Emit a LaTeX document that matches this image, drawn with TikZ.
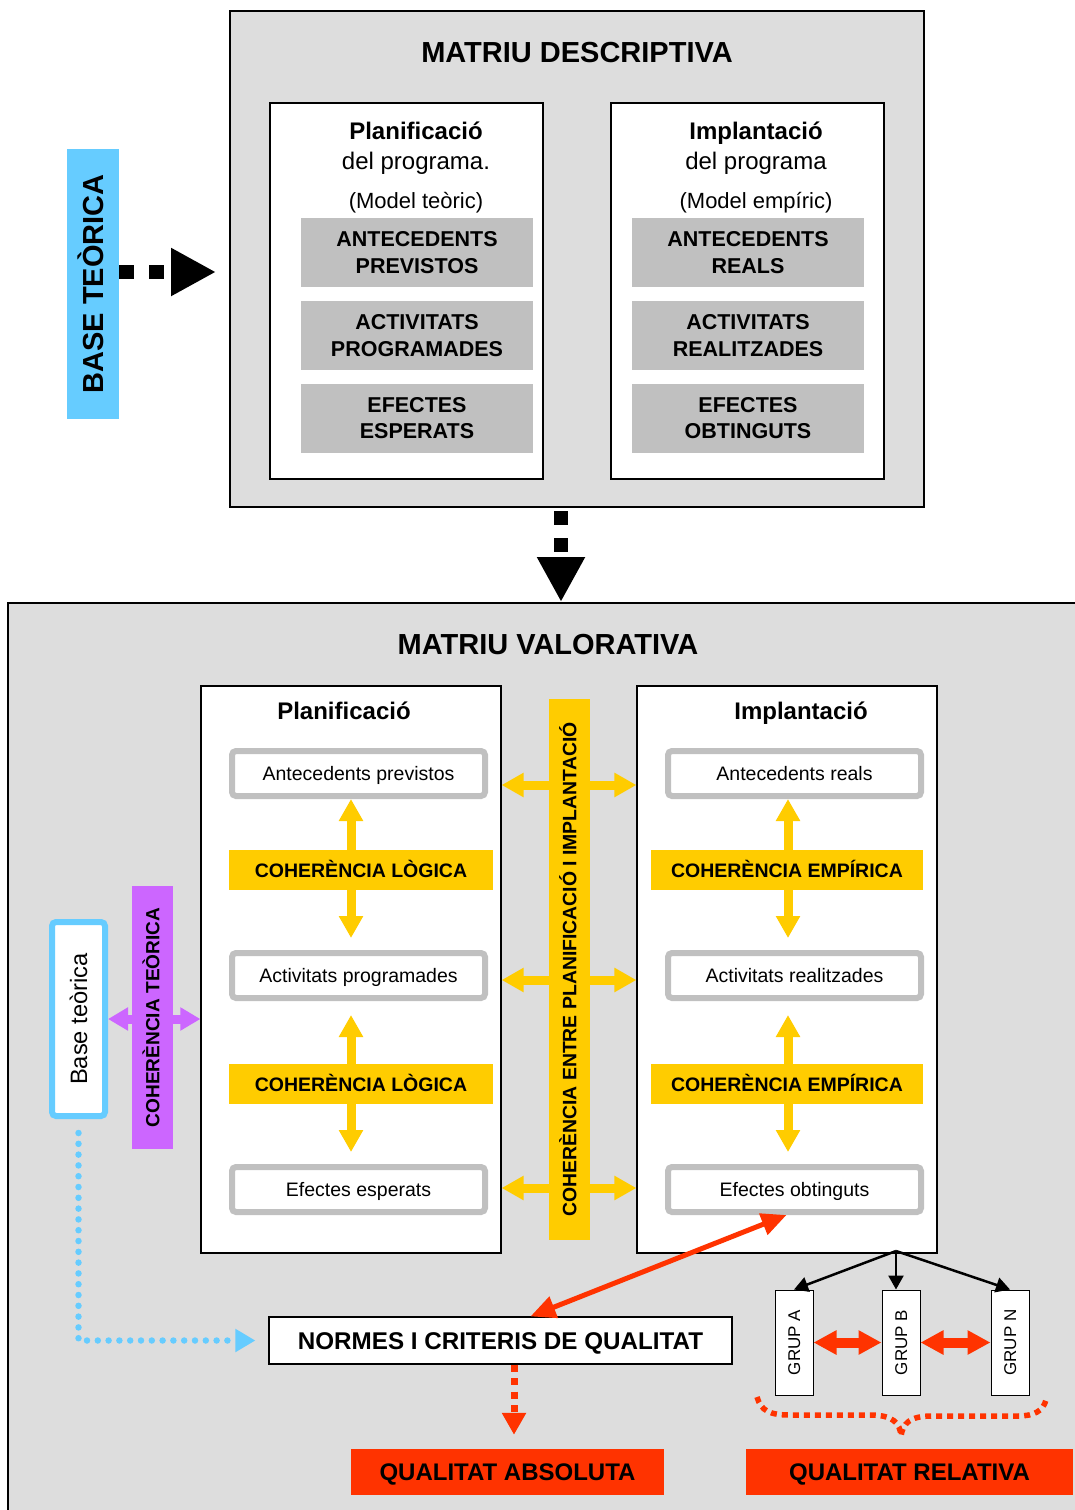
\documentclass[tikz,border=0pt]{standalone}
\usepackage{fontspec}
\setmainfont{Liberation Sans}
\usetikzlibrary{arrows.meta,positioning}
\definecolor{fonsgris}{HTML}{DDDDDD}
\definecolor{gris}{HTML}{C0C0C0}
\definecolor{blau}{HTML}{66CCFF}
\definecolor{groc}{HTML}{FFCC00}
\definecolor{lila}{HTML}{CC66FF}
\definecolor{vermell}{HTML}{FF3300}
\newcommand{\mida}[2]{\fontsize{#1}{#2}\selectfont}

\begin{document}
\begin{tikzpicture}[x=1pt,y=-1pt]
% mides en pixels de l'original
\tikzstyle{caixa} = [rectangle, draw=black, line width=1.2pt, fill=white, inner sep=0pt]
\tikzstyle{fons} = [rectangle, draw=black, line width=2pt, fill=fonsgris, inner sep=0pt]
\tikzstyle{t29} = [text height=20.8pt, text depth=0pt, font=\mida{29}{34}\bfseries]
\tikzstyle{t24} = [text height=17.2pt, text depth=0pt, font=\mida{24}{28}]
\tikzstyle{t22} = [text height=15.8pt, text depth=0pt, font=\mida{22}{26}]
\tikzstyle{t19} = [text height=14pt, text depth=0pt, font=\mida{19.5}{24}]
\tikzstyle{grisa} = [rectangle, fill=gris, inner sep=0pt, minimum width=232pt, minimum height=69pt, align=center,
  text depth=0pt, font=\mida{21.5}{26.5}\bfseries]
\tikzstyle{apartat} = [rectangle, t19, rounded corners=4pt, draw=gris, line width=6pt, fill=white, minimum width=253pt, minimum height=45pt]
\tikzstyle{coher} = [rectangle, t19, fill=groc, inner sep=0pt, minimum height=40pt, font=\mida{19.5}{24}\bfseries]
\tikzstyle{grup} = [rectangle, draw=black, line width=1pt, fill=white, inner sep=0pt, rotate=90, minimum width=105pt, minimum height=38pt, text height=12.2pt, text depth=0pt, font=\mida{17}{20}]
\tikzstyle{qualitat} = [rectangle, t24, fill=vermell, inner sep=0pt, minimum height=46pt, font=\mida{24}{28}\bfseries]
\tikzstyle{fnegra} = [black, line width=14pt, dash pattern=on 15pt off 15pt, -{Triangle[length=45pt,width=45pt]}]
\tikzstyle{fgroc} = [groc, line width=9pt, -{Triangle[length=22pt,width=23pt]}]
\tikzstyle{fgroc2} = [fgroc, {Triangle[length=22pt,width=23pt]}-{Triangle[length=22pt,width=23pt]}]
\tikzstyle{fvermella} = [vermell, line width=10pt, {Triangle[length=23pt,width=23pt]}-{Triangle[length=23pt,width=23pt]}]

\useasboundingbox (0,0) rectangle (1074,1510);
\fill[white] (0,0) rectangle (1074,1510);

% matriu descriptiva
\node (desc)[fons, minimum width=694pt, minimum height=496pt] at (577,259) {};
\node (tdesc)[t29] at (577,52) {MATRIU DESCRIPTIVA};
\node (planS)[caixa, minimum width=273pt, minimum height=376pt] at (406.5,291) {};
\node (implS)[caixa, minimum width=273pt, minimum height=376pt] at (747.5,291) {};
\node (tplanS)[t24, font=\mida{24}{28}\bfseries] at (416,131) {Planificació};
\node (dplanS)[t24] at (416,161) {del programa.};
\node (mplanS)[t22] at (416,201) {(Model teòric)};
\node (timplS)[t24, font=\mida{24}{28}\bfseries] at (756,131) {Implantació};
\node (dimplS)[t24] at (756,161) {del programa};
\node (mimplS)[t22] at (756,201) {(Model empíric)};
\node (antP)[grisa] at (417,252.5) {ANTECEDENTS\\PREVISTOS};
\node (actP)[grisa] at (417,335.5) {ACTIVITATS\\PROGRAMADES};
\node (efeP)[grisa] at (417,418) {EFECTES\\ESPERATS};
\node (antR)[grisa] at (748,252.5) {ANTECEDENTS\\REALS};
\node (actR)[grisa] at (748,335.5) {ACTIVITATS\\REALITZADES};
\node (efeR)[grisa] at (748,418) {EFECTES\\OBTINGUTS};

\node (bteo)[rectangle, t29, fill=blau, rotate=90, inner sep=0pt, minimum width=270pt, minimum height=52pt] at (93,284) {BASE TEÒRICA};
\draw [fnegra, shorten >=13pt] (bteo.south |- 0,272) -- (desc.west |- 0,272);

% matriu valorativa
\node (valor)[fons, minimum width=1074pt, minimum height=914pt] at (545,1060) {};
\draw [fnegra, dash pattern=on 14pt off 13pt, dash phase=-3pt] (desc.south -| 561,0) -- (valor.north -| 561,0);
\node (tvalor)[t29] at (548,644) {MATRIU VALORATIVA};

\node (planL)[caixa, minimum width=300pt, minimum height=567pt] at (351,969.5) {};
\node (implL)[caixa, minimum width=300pt, minimum height=567pt] at (787,969.5) {};
\node (tplanL)[t24, font=\mida{24}{28}\bfseries] at (344,711) {Planificació};
\node (timplL)[t24, font=\mida{24}{28}\bfseries] at (801,711) {Implantació};

\node (ap1)[apartat] at (358.5,773.5) {Antecedents previstos};
\node (ap2)[apartat] at (358.5,975.5) {Activitats programades};
\node (ap3)[apartat] at (358.5,1189.5) {Efectes esperats};
\node (ar1)[apartat] at (794.5,773.5) {Antecedents reals};
\node (ar2)[apartat] at (794.5,975.5) {Activitats realitzades};
\node (ar3)[apartat] at (794.5,1189.5) {Efectes obtinguts};

\coordinate (eixL) at (351,0);
\coordinate (eixR) at (788,0);
\node (cl1)[coher, minimum width=264pt] at (361,870) {COHERÈNCIA LÒGICA};
\node (cl2)[coher, minimum width=264pt] at (361,1084) {COHERÈNCIA LÒGICA};
\node (ce1)[coher, minimum width=272pt] at (787,870) {COHERÈNCIA EMPÍRICA};
\node (ce2)[coher, minimum width=272pt] at (787,1084) {COHERÈNCIA EMPÍRICA};

\draw [fgroc] (cl1.north -| eixL) -- (ap1.south -| eixL);
\draw [fgroc, shorten >=12pt] (cl1.south -| eixL) -- (ap2.north -| eixL);
\draw [fgroc, shorten >=14pt] (cl2.north -| eixL) -- (ap2.south -| eixL);
\draw [fgroc, shorten >=12pt] (cl2.south -| eixL) -- (ap3.north -| eixL);
\draw [fgroc] (ce1.north -| eixR) -- (ar1.south -| eixR);
\draw [fgroc, shorten >=12pt] (ce1.south -| eixR) -- (ar2.north -| eixR);
\draw [fgroc, shorten >=14pt] (ce2.north -| eixR) -- (ar2.south -| eixR);
\draw [fgroc, shorten >=12pt] (ce2.south -| eixR) -- (ar3.north -| eixR);

\draw [fgroc2] (planL.east |- 0,785) -- (implL.west |- 0,785);
\draw [fgroc2] (planL.east |- 0,980) -- (implL.west |- 0,980);
\draw [fgroc2] (planL.east |- 0,1188) -- (implL.west |- 0,1188);
\node (cpi)[rectangle, fill=groc, rotate=90, inner sep=0pt, minimum width=541pt, minimum height=41pt,
  text height=13.9pt, text depth=0pt, font=\mida{19.4}{24}\bfseries] at (569.5,969.5) {COHERÈNCIA ENTRE PLANIFICACIÓ I IMPLANTACIÓ};

% base teorica
\node (bt)[rectangle, rounded corners=4pt, draw=blau, line width=6pt, fill=white, rotate=90,
  minimum width=194pt, minimum height=53pt, text height=17pt, text depth=0pt, font=\mida{23.7}{28}] at (78.5,1019) {Base teòrica};
\draw [lila, line width=9pt, {Triangle[length=20pt,width=22pt]}-{Triangle[length=20pt,width=22pt]}]
  (bt.south) -- (planL.west |- bt.south);
\node (ct)[rectangle, fill=lila, rotate=90, inner sep=0pt, minimum width=263pt, minimum height=41pt,
  text height=13.7pt, text depth=0pt, font=\mida{19.1}{24}\bfseries] at (152.5,1017.5) {COHERÈNCIA TEÒRICA};

% qualitat
\node (normes)[caixa, t24, minimum width=463pt, minimum height=47pt, font=\mida{24.2}{28}\bfseries] at (500.5,1340.5)
  {NORMES I CRITERIS DE QUALITAT};
\draw [blau, line width=6.5pt, line cap=round, dash pattern=on 0pt off 10.8pt, shorten >=13pt,
  -{Triangle[length=20pt,width=22pt]}] (bt.west) ++(0,14) |- (normes.west);
\draw [vermell, line width=5pt, {Triangle[length=25pt,width=22pt]}-{Triangle[length=25pt,width=22pt]}]
  ([xshift=-8pt]ar3.south) -- ([xshift=30pt]normes.north);

\node (qa)[qualitat, minimum width=313pt] at (507.5,1472) {QUALITAT ABSOLUTA};
\node (qr)[qualitat, minimum width=327pt] at (909.5,1472) {QUALITAT RELATIVA};
\draw [vermell, line width=7pt, dash pattern=on 7pt off 6.5pt, shorten >=14pt,
  -{Triangle[length=22pt,width=23pt]}] (normes.south -| 514,0) -- (qa.north -| 514,0);

\node (gA)[grup] at (794,1342.5) {GRUP A};
\node (gB)[grup] at (901,1342.5) {GRUP B};
\node (gN)[grup] at (1010,1342.5) {GRUP N};
\coordinate (arrel) at (896,1251);
\draw [line width=2.5pt, -{Triangle[length=14pt,width=15pt]}] (arrel) -- (gA.east);
\draw [line width=2.5pt, -{Triangle[length=14pt,width=15pt]}] (arrel) -- (gB.east -| arrel);
\draw [line width=2.5pt, -{Triangle[length=14pt,width=15pt]}] (arrel) -- (gN.east);
\draw [fvermella] (gA.south) -- (gB.north);
\draw [fvermella] (gB.south) -- (gN.north);

\draw [vermell, line width=5.5pt, dash pattern=on 6pt off 5pt]
  (757,1397) .. controls (761,1411) and (770,1415) .. (790,1415) -- (870,1415)
  .. controls (893,1415) and (900,1423) .. (901,1436)
  .. controls (903,1423) and (910,1416) .. (932,1416) -- (1018,1416)
  .. controls (1034,1416) and (1043,1411) .. (1046,1400);
\end{tikzpicture}
\end{document}
